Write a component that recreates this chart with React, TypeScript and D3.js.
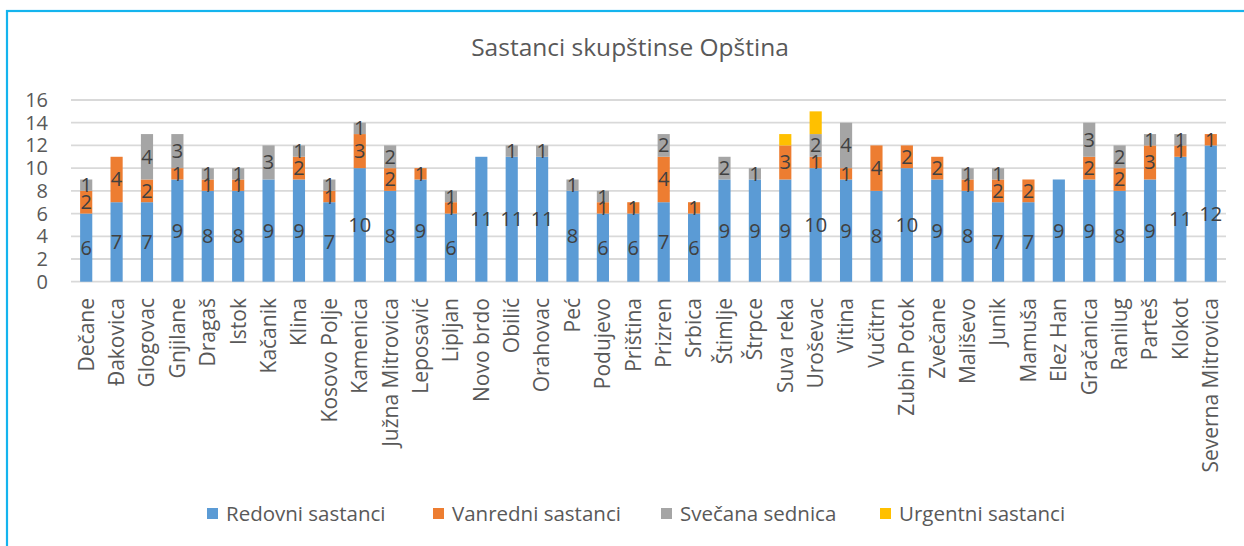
import React from 'react';
import * as d3 from 'd3';

const categories = [
  'Dečane', 'Đakovica', 'Glogovac', 'Gnjilane', 'Dragaš', 'Istok', 'Kačanik', 'Klina',
  'Kosovo Polje', 'Kamenica', 'Južna Mitrovica', 'Leposavić', 'Lipljan', 'Novo brdo',
  'Obilić', 'Orahovac', 'Peć', 'Podujevo', 'Priština', 'Prizren', 'Srbica', 'Štimlje',
  'Štrpce', 'Suva reka', 'Uroševac', 'Vitina', 'Vučitrn', 'Zubin Potok', 'Zvečane',
  'Mališevo', 'Junik', 'Mamuša', 'Elez Han', 'Gračanica', 'Ranilug', 'Parteš', 'Klokot',
  'Severna Mitrovica',
];
const redovni = [6, 7, 7, 9, 8, 8, 9, 9, 7, 10, 8, 9, 6, 11, 11, 11, 8, 6, 6, 7, 6, 9, 9, 9, 10, 9, 8, 10, 9, 8, 7, 7, 9, 9, 8, 9, 11, 12];
const vanredni = [2, 4, 2, 1, 1, 1, 0, 2, 1, 3, 2, 1, 1, 0, 0, 0, 0, 1, 1, 4, 1, 0, 0, 3, 1, 1, 4, 2, 2, 1, 2, 2, 0, 2, 2, 3, 1, 1];
const svecana = [1, 0, 4, 3, 1, 1, 3, 1, 1, 1, 2, 0, 1, 0, 1, 1, 1, 1, 0, 2, 0, 2, 1, 0, 2, 4, 0, 0, 0, 1, 1, 0, 0, 3, 2, 1, 1, 0];
const urgentni = [0, 0, 0, 0, 0, 0, 0, 0, 0, 0, 0, 0, 0, 0, 0, 0, 0, 0, 0, 0, 0, 0, 0, 1, 2, 0, 0, 0, 0, 0, 0, 0, 0, 0, 0, 0, 0, 0];
const yTicks = [0, 2, 4, 6, 8, 10, 12, 14, 16];
const seriesKeys = ['Redovni sastanci', 'Vanredni sastanci', 'Svečana sednica', 'Urgentni sastanci'];
const seriesColors = ['#5B9BD5', '#ED7D31', '#A5A5A5', '#FFC000'];
const seriesShowLabels = [true, true, true, false];
const title = 'Sastanci skupštinse Opština';

const W = 1244;
const H = 546;
const FONT = '"Open Sans", sans-serif';

export default function App() {
  const rows = categories.map((c, i) => ({
    cat: c,
    [seriesKeys[0]]: redovni[i],
    [seriesKeys[1]]: vanredni[i],
    [seriesKeys[2]]: svecana[i],
    [seriesKeys[3]]: urgentni[i],
  }));
  const stack = d3.stack<any>().keys(seriesKeys);
  const stacked = stack(rows);

  const x = d3.scaleBand<string>().domain(categories).range([71, 1226]).paddingInner(0.6).paddingOuter(0.3);
  const y = d3.scaleLinear().domain([0, 16]).range([281.7, 100]);

  const legendX = [207, 433, 661, 880];

  return (
    <svg width={W} height={H} style={{ position: 'fixed', left: 0, top: 0, background: '#fff' }} fontFamily={FONT}>
      <rect x={0} y={0} width={W} height={H} fill="#fff" />
      <rect x={7} y={11} width={W + 20} height={H + 20} fill="none" stroke="#14B4EE" strokeWidth={2.2} />
      <text x={630} y={56} textAnchor="middle" fontSize={24.5} fill="#595959">{title}</text>
      {yTicks.map((t) => (
        <g key={t}>
          <line x1={71} x2={1226} y1={y(t)} y2={y(t)} stroke="#D9D9D9" strokeWidth={1.8} />
          <text x={48} y={y(t)} dy="0.35em" textAnchor="end" fontSize={20} fill="#595959">{t}</text>
        </g>
      ))}
      {stacked.map((s, si) => (
        <g key={s.key} fill={seriesColors[si]}>
          {s.map((d, i) => {
            const v = d[1] - d[0];
            if (v <= 0) return null;
            return (
              <rect key={i} x={x(categories[i])} y={y(d[1])} width={x.bandwidth()} height={y(d[0]) - y(d[1])} />
            );
          })}
        </g>
      ))}
      {stacked.map((s, si) =>
        seriesShowLabels[si] ? (
          <g key={'l' + s.key}>
            {s.map((d, i) => {
              const v = d[1] - d[0];
              if (v <= 0) return null;
              return (
                <text key={i} x={(x(categories[i]) as number) + x.bandwidth() / 2} y={y((d[0] + d[1]) / 2)} dy="0.35em"
                  textAnchor="middle" fontSize={20} fill="#404040">{v}</text>
              );
            })}
          </g>
        ) : null
      )}
      {categories.map((c) => {
        const cx = (x(c) as number) + x.bandwidth() / 2;
        return (
          <text key={c} transform={`translate(${cx},298) rotate(-90)`} dy="0.35em" textAnchor="end" fontSize={21} fill="#595959">{c}</text>
        );
      })}
      {seriesKeys.map((k, i) => (
        <g key={k}>
          <rect x={legendX[i]} y={508} width={11} height={11} fill={seriesColors[i]} />
          <text x={legendX[i] + 19} y={514} dy="0.35em" fontSize={20.5} fill="#595959">{k}</text>
        </g>
      ))}
    </svg>
  );
}
